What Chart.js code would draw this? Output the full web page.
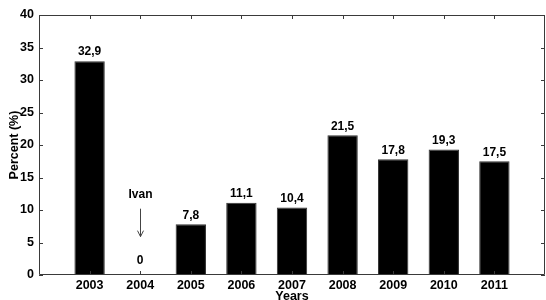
<!DOCTYPE html>
<html lang="en">
<head>
    <meta charset="UTF-8">
    <title>Percent by year</title>
    <script src="https://cdn.jsdelivr.net/npm/chart.js@4.4.1/dist/chart.umd.min.js"></script>
    <style>
        html, body { margin: 0; padding: 0; background: #fff; }
        #chartContainer { width: 546px; height: 300px; }
    </style>
</head>
<body>
    <div id="chartContainer">
        <canvas id="pctChart" width="546" height="300"></canvas>
    </div>

    <script>
        // data
        const years = [2003, 2004, 2005, 2006, 2007, 2008, 2009, 2010, 2011];
        const percents = [32.9, 0, 7.8, 11.1, 10.4, 21.5, 17.8, 19.3, 17.5];
        const yTicks = [0, 5, 10, 15, 20, 25, 30, 35, 40];

        // hurricane note over 2004
        const noteYear = 2004;
        const noteText = 'Ivan';
        const noteTextAt = 12.3;
        const arrowFrom = 10.2;
        const arrowTo = 5.9;

        const FONT = 'Liberation Sans, Arial, sans-serif';
        const boxColor = '#3a3a3a';

        // ticks pointing inwards on all four sides + value labels + note
        const matlabBox = {
            id: 'matlabBox',
            afterDatasetsDraw(chart) {
                const { ctx, chartArea: a, scales } = chart;
                const x = scales.x, y = scales.y;
                ctx.save();
                ctx.strokeStyle = boxColor;
                ctx.lineWidth = 1;
                ctx.beginPath();
                ctx.rect(a.left + 0.5, a.top + 0.5, a.right - a.left - 1, a.bottom - a.top - 1);
                ctx.stroke();

                ctx.beginPath();
                years.forEach(v => {
                    const px = Math.round(x.getPixelForValue(v)) + 0.5;
                    ctx.moveTo(px, a.bottom); ctx.lineTo(px, a.bottom - 4);
                    ctx.moveTo(px, a.top); ctx.lineTo(px, a.top + 4);
                });
                yTicks.forEach(v => {
                    const py = Math.round(y.getPixelForValue(v)) + 0.5;
                    ctx.moveTo(a.left, py); ctx.lineTo(a.left + 4, py);
                    ctx.moveTo(a.right, py); ctx.lineTo(a.right - 4, py);
                });
                ctx.stroke();

                // value labels
                ctx.fillStyle = '#000';
                ctx.font = 'bold 12px ' + FONT;
                ctx.textAlign = 'center';
                ctx.textBaseline = 'middle';
                years.forEach((yr, i) => {
                    const v = percents[i];
                    const gap = v === 0 ? 14 : 9;
                    ctx.fillText(String(v).replace('.', ','), x.getPixelForValue(yr), y.getPixelForValue(v) - gap);
                });

                // Ivan note with arrow
                const nx = Math.round(x.getPixelForValue(noteYear)) + 0.5;
                ctx.fillText(noteText, nx, y.getPixelForValue(noteTextAt));
                const y0 = y.getPixelForValue(arrowFrom), y1 = y.getPixelForValue(arrowTo);
                ctx.strokeStyle = '#444';
                ctx.beginPath();
                ctx.moveTo(nx, y0); ctx.lineTo(nx, y1);
                ctx.moveTo(nx - 3, y1 - 6); ctx.lineTo(nx, y1); ctx.lineTo(nx + 3, y1 - 6);
                ctx.stroke();
                ctx.restore();
            }
        };

        new Chart(document.getElementById('pctChart'), {
            type: 'bar',
            data: {
                datasets: [{
                    data: years.map((yr, i) => ({ x: yr, y: percents[i] })),
                    backgroundColor: '#000',
                    borderColor: '#333',
                    borderWidth: 1,
                    barPercentage: 0.6,
                    categoryPercentage: 1
                }]
            },
            options: {
                responsive: false,
                animation: false,
                layout: { padding: { top: 15, right: 1, left: 0, bottom: 0 } },
                plugins: { legend: { display: false }, tooltip: { enabled: false } },
                scales: {
                    x: {
                        type: 'linear',
                        min: 2002,
                        max: 2012,
                        offset: false,
                        grid: { display: false, drawTicks: false, tickLength: 0, offset: false },
                        border: { display: false },
                        afterBuildTicks: s => { s.ticks = years.map(v => ({ value: v })); },
                        afterFit: s => { s.height = 25; },
                        ticks: {
                            color: '#000',
                            padding: 3,
                            maxRotation: 0,
                            autoSkip: false,
                            font: { family: FONT, size: 12.5, weight: 'bold' },
                            callback: v => String(v)
                        },
                        title: {
                            display: true,
                            text: 'Years',
                            color: '#000',
                            padding: { top: 0, bottom: -3 },
                            font: { family: FONT, size: 12.5, weight: 'bold', lineHeight: 1 }
                        }
                    },
                    y: {
                        min: 0,
                        max: 40,
                        grid: { display: false, drawTicks: false, tickLength: 0 },
                        border: { display: false },
                        afterBuildTicks: s => { s.ticks = yTicks.map(v => ({ value: v })); },
                        afterFit: s => { s.width = 39; },
                        ticks: {
                            color: '#000',
                            padding: 5,
                            font: { family: FONT, size: 12.5, weight: 'bold' }
                        },
                        title: {
                            display: true,
                            text: 'Percent (%)',
                            color: '#000',
                            padding: { top: 8, bottom: 0 },
                            font: { family: FONT, size: 12.5, weight: 'bold', lineHeight: 1 }
                        }
                    }
                }
            },
            plugins: [matlabBox]
        });
    </script>
</body>
</html>
